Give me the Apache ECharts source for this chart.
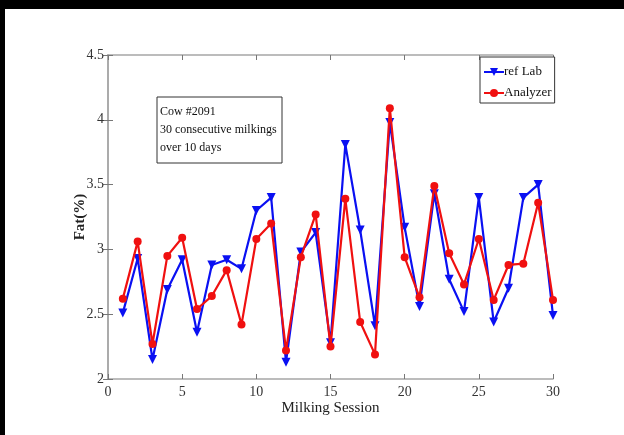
<!DOCTYPE html>
<html>
<head>
<meta charset="utf-8">
<script src="https://cdn.jsdelivr.net/npm/echarts@6/dist/echarts.min.js"></script>
<style>html,body{margin:0;padding:0;background:#fff;}#c{width:624px;height:435px;}</style>
</head>
<body>
<div id="c"></div>
<script>
var sessions = [1,2,3,4,5,6,7,8,9,10,11,12,13,14,15,16,17,18,19,20,21,22,23,24,25,26,27,28,29,30];
var refLab = [2.51,2.93,2.15,2.69,2.92,2.36,2.88,2.92,2.85,3.30,3.40,2.13,2.98,3.13,2.28,3.81,3.15,2.41,3.98,3.17,2.56,3.43,2.77,2.52,3.40,2.44,2.70,3.40,3.50,2.49];
var analyzer = [2.62,3.06,2.27,2.95,3.09,2.54,2.64,2.84,2.42,3.08,3.20,2.22,2.94,3.27,2.25,3.39,2.44,2.19,4.09,2.94,2.63,3.49,2.97,2.73,3.08,2.61,2.88,2.89,3.36,2.61];
var xTicks = [0,5,10,15,20,25,30];
var yTicks = [2,2.5,3,3.5,4,4.5];
var noteLines = ['Cow #2091','30 consecutive milkings','over 10 days'];

function pairs(v){ return sessions.map(function(s,i){ return [s, v[i]]; }); }
var serif = 'Liberation Serif, Times New Roman, serif';
var axisGrey = '#a6a6a6';

var chart = echarts.init(document.getElementById('c'), null, {renderer:'canvas'});
chart.setOption({
  backgroundColor:'#ffffff',
  animation:false,
  grid:{left:108, top:55, right:71, bottom:56, show:false},
  xAxis:[{
    type:'value', min:0, max:30, interval:5, position:'bottom',
    axisLine:{show:true, lineStyle:{color:axisGrey, width:1.5}},
    axisTick:{show:true, inside:true, length:5, lineStyle:{color:'#777'}},
    axisLabel:{color:'#333', fontFamily:serif, fontSize:14, margin:6,
      formatter:function(v){ return xTicks.indexOf(v)>=0 ? String(v) : ''; }},
    splitLine:{show:false},
    name:'Milking Session', nameLocation:'middle', nameGap:22, nameMoveOverlap:false,
    nameTextStyle:{color:'#222', fontFamily:serif, fontSize:15}
  },{
    type:'value', min:0, max:30, interval:5, position:'top',
    axisLine:{show:true, lineStyle:{color:axisGrey, width:1.5}},
    axisTick:{show:true, inside:true, length:5, lineStyle:{color:'#777'}},
    axisLabel:{show:false}, splitLine:{show:false}
  }],
  yAxis:[{
    type:'value', min:2, max:4.5, interval:0.5, position:'left',
    axisLine:{show:true, lineStyle:{color:axisGrey, width:1.5}},
    axisTick:{show:true, inside:true, length:5, lineStyle:{color:'#777'}},
    axisLabel:{color:'#333', fontFamily:serif, fontSize:14, margin:4,
      formatter:function(v){ var t = yTicks.filter(function(y){return Math.abs(y-v)<1e-6;}); return t.length? String(t[0]) : ''; }},
    splitLine:{show:false},
    name:'Fat(%)', nameLocation:'middle', nameGap:20, nameRotate:90, nameMoveOverlap:false,
    nameTextStyle:{color:'#222', fontFamily:serif, fontSize:15, fontWeight:'bold'}
  },{
    type:'value', min:2, max:4.5, interval:0.5, position:'right',
    axisLine:{show:true, lineStyle:{color:axisGrey, width:1.5}},
    axisTick:{show:true, inside:true, length:5, lineStyle:{color:'#777'}},
    axisLabel:{show:false}, splitLine:{show:false}
  }],
  legend:{
    orient:'vertical', left:480, top:57, padding:[7,3,2,3],
    borderColor:'#333', borderWidth:1, backgroundColor:'#fff',
    itemWidth:20, itemHeight:10, itemGap:5,
    textStyle:{color:'#111', fontFamily:serif, fontSize:13, lineHeight:16, padding:[0,0,0,-5]},
    data:['ref Lab','Analyzer']
  },
  graphic:[
    {type:'rect', shape:{x:0,y:0,width:624,height:9}, style:{fill:'#000'}, z:100},
    {type:'rect', shape:{x:0,y:0,width:5,height:435}, style:{fill:'#000'}, z:100},
    {type:'rect', shape:{x:157,y:97,width:125,height:66}, style:{fill:'#fff', stroke:'#333', lineWidth:1}, z:50},
    {type:'text', left:160, top:103, z:51,
      style:{text:noteLines.join('\n'), fill:'#111', font:'12px ' + serif, lineHeight:18}}
  ],
  series:[{
    name:'ref Lab', type:'line', xAxisIndex:0, yAxisIndex:0,
    data:pairs(refLab), symbol:'triangle', symbolRotate:180, symbolSize:9,
    lineStyle:{color:'#0a10f2', width:2.2}, itemStyle:{color:'#0a10f2'}, z:3
  },{
    name:'Analyzer', type:'line', xAxisIndex:0, yAxisIndex:0,
    data:pairs(analyzer), symbol:'circle', symbolSize:8,
    lineStyle:{color:'#f01010', width:2.2}, itemStyle:{color:'#f01010'}, z:4
  }]
});
</script>
</body>
</html>
